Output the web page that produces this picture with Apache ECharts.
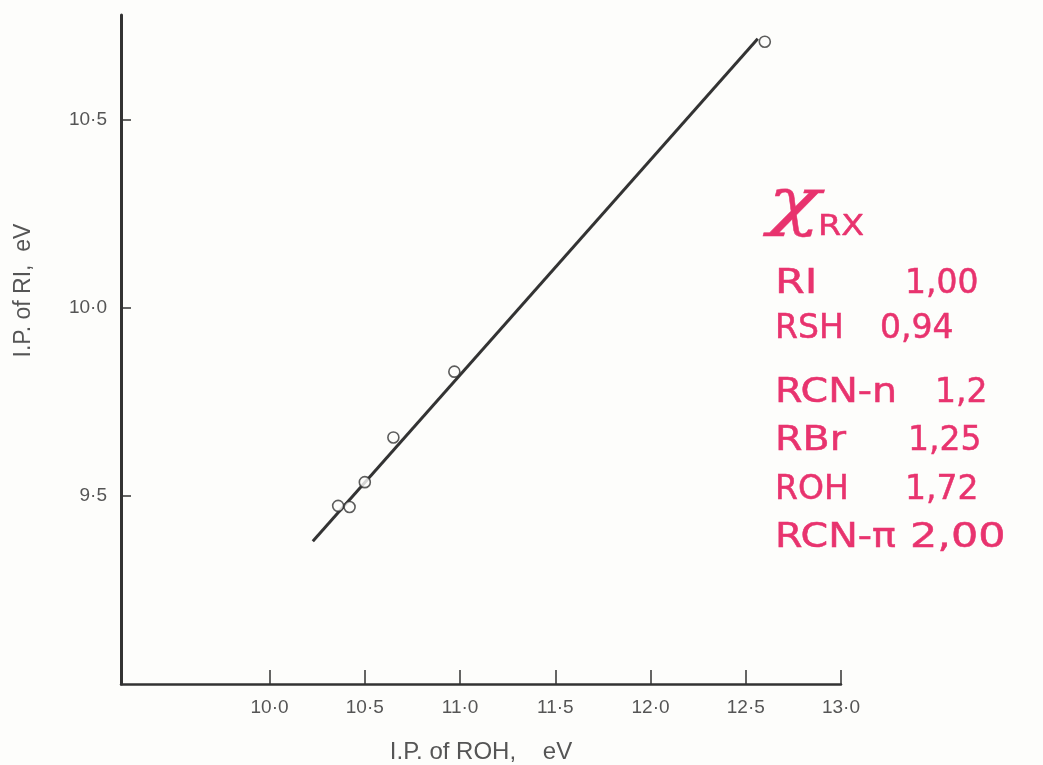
<!DOCTYPE html>
<html>
<head>
<meta charset="utf-8">
<script src="https://cdn.jsdelivr.net/npm/echarts@6/dist/echarts.min.js"></script>
<style>
html,body{margin:0;padding:0;background:#fdfdfb;}
#chart{width:1043px;height:765px;}
</style>
</head>
<body>
<div id="chart"></div>
<script>
// ---- data ----
const ipROH = [10.36, 10.42, 10.50, 10.65, 10.97, 12.60];
const ipRI  = [9.474, 9.471, 9.537, 9.656, 9.831, 10.709];
const fitLineX = [10.227, 12.563];
const fitLineY = [9.380, 10.717];
const xTicks = [10.0, 10.5, 11.0, 11.5, 12.0, 12.5, 13.0];
const yTicks = [9.5, 10.0, 10.5];
const xTitle = 'I.P. of ROH,    eV';
const yTitle = 'I.P. of RI,  eV';
const noteHead = 'χ';
const noteHeadSub = 'RX';
const noteLabels = ['RI', 'RSH', 'RCN-n', 'RBr', 'ROH', 'RCN-π'];
const noteValues = ['1,00', '0,94', '1,2', '1,25', '1,72', '2,00'];

// ---- chart ----
const chart = echarts.init(document.getElementById('chart'));
const fmt = v => v.toFixed(1).replace('.', '·');
const axisColor = '#333';
const txtColor = '#555';
const pink = '#e8336e';

const noteCY = [287, 332, 396, 444, 493, 541];
const noteValX = [905, 880, 935, 908, 905, 910];
const noteLabelScale = [1.3, 1.0, 1.2, 1.2, 1.0, 1.2];
const noteValScale = [1.0, 1.0, 1.0, 1.0, 1.0, 1.3];
const graphics = [
  {type:'text', x:768, y:174, scaleX:1.35, style:{text:noteHead, font:'italic 64px "DejaVu Serif"', fill:pink, stroke:pink, lineWidth:0.4}},
  {type:'text', x:818, y:213, scaleX:1.15, style:{text:noteHeadSub, font:'29px "DejaVu Sans"', fill:pink, stroke:pink, lineWidth:0.5}}
];
noteLabels.forEach((t,i)=>{
  graphics.push({type:'text', x:775, y:noteCY[i]-19, scaleX:noteLabelScale[i], style:{text:t, font:'33px "DejaVu Sans"', fill:pink, stroke:pink, lineWidth:0.5}});
  graphics.push({type:'text', x:noteValX[i], y:noteCY[i]-19, scaleX:noteValScale[i], style:{text:noteValues[i], font:'33px "DejaVu Sans"', fill:pink, stroke:pink, lineWidth:0.5}});
});

chart.setOption({
  backgroundColor:'#fdfdfb',
  animation:false,
  grid:{left:121, right:202, top:15, bottom:81, outerBoundsMode:'none', containLabel:false},
  xAxis:{
    type:'value', min:9.22, max:13.0,
    splitLine:{show:false},
    axisLine:{show:true, lineStyle:{color:axisColor, width:2.5}},
    axisTick:{show:true, inside:true, length:14, customValues:xTicks, lineStyle:{color:axisColor, width:1.5}},
    axisLabel:{customValues:xTicks, formatter:fmt, color:txtColor, fontSize:19, fontFamily:'Liberation Sans', margin:14},
    name:xTitle, nameLocation:'middle', nameGap:56,
    nameTextStyle:{color:txtColor, fontSize:24, fontFamily:'Liberation Sans'}
  },
  yAxis:{
    type:'value', min:9.0, max:10.78,
    splitLine:{show:false},
    axisLine:{show:true, lineStyle:{color:axisColor, width:3}},
    axisTick:{show:true, inside:true, length:10, customValues:yTicks, lineStyle:{color:axisColor, width:1.5}},
    axisLabel:{customValues:yTicks, formatter:fmt, color:txtColor, fontSize:19, fontFamily:'Liberation Sans', margin:14},
    name:yTitle, nameLocation:'middle', nameGap:86, nameRotate:90,
    nameTextStyle:{color:txtColor, fontSize:23, fontFamily:'Liberation Sans', padding:[0,0,0,118]}
  },
  graphic: graphics,
  series:[
    {type:'line', data:fitLineX.map((x,i)=>[x, fitLineY[i]]), symbol:'none',
     lineStyle:{color:'#333', width:3}, z:2},
    {type:'scatter', data:ipROH.map((x,i)=>[x, ipRI[i]]), symbol:'circle', symbolSize:11,
     itemStyle:{color:'#fdfdfb', borderColor:'#333', borderWidth:1.6}, z:3}
  ]
});
</script>
</body>
</html>
